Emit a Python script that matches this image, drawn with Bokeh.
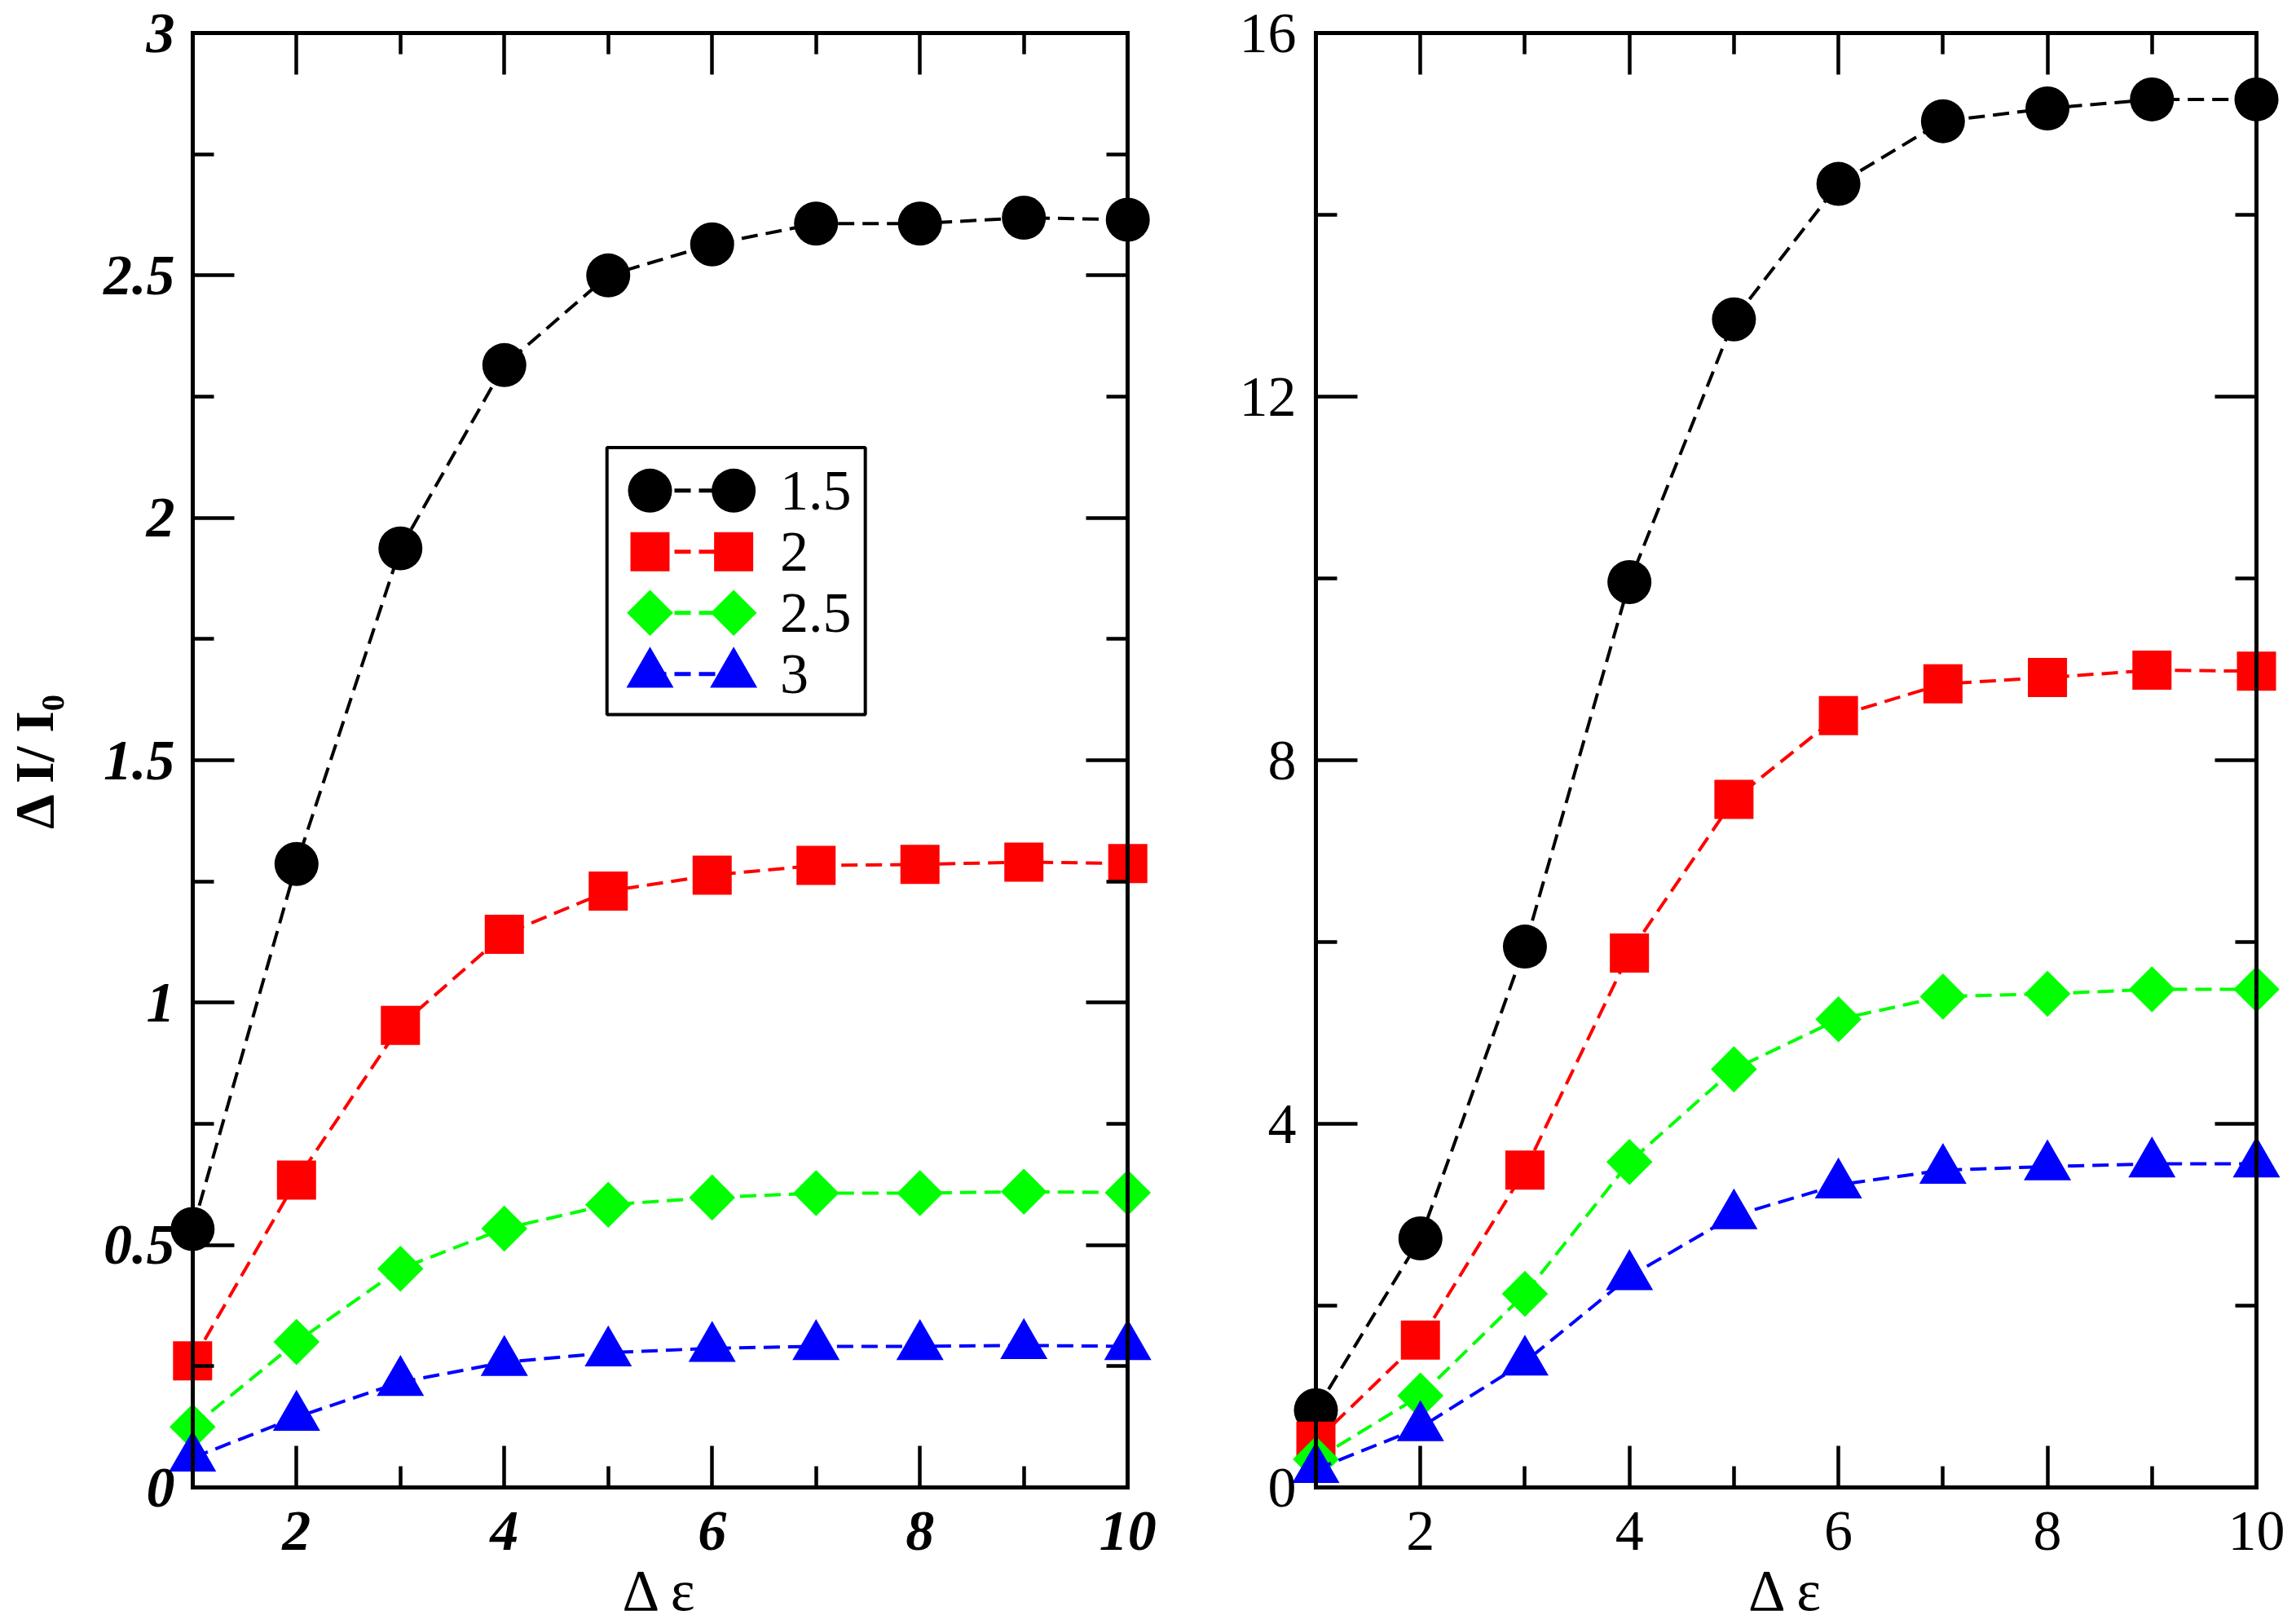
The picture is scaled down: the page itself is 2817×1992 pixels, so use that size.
import math
from bokeh.plotting import figure
from bokeh.layouts import row
from bokeh.models import Range1d, LinearAxis, FixedTicker, NumeralTickFormatter, BasicTickFormatter
from bokeh.embed import file_html
from bokeh.resources import INLINE
from bokeh.core.properties import value

# ---------------- data ----------------
x_vals = [1, 2, 3, 4, 5, 6, 7, 8, 9, 10]
series_names = ["1.5", "2", "2.5", "3"]

left_black = [0.533, 1.286, 1.937, 2.315, 2.500, 2.564, 2.607, 2.607, 2.619, 2.615]
left_red = [0.261, 0.634, 0.953, 1.141, 1.230, 1.263, 1.283, 1.285, 1.290, 1.287]
left_green = [0.125, 0.300, 0.451, 0.534, 0.583, 0.598, 0.607, 0.607, 0.610, 0.608]
left_blue = [0.061, 0.145, 0.217, 0.258, 0.278, 0.287, 0.291, 0.291, 0.293, 0.291]

right_black = [0.85, 2.74, 5.95, 9.96, 12.85, 14.34, 15.03, 15.17, 15.27, 15.27]
right_red = [0.51, 1.62, 3.49, 5.88, 7.57, 8.49, 8.84, 8.91, 8.99, 8.98]
right_green = [0.31, 1.01, 2.13, 3.58, 4.60, 5.15, 5.40, 5.43, 5.48, 5.48]
right_blue = [0.20, 0.66, 1.38, 2.32, 2.99, 3.33, 3.49, 3.53, 3.56, 3.56]

x_major_ticks = [2, 4, 6, 8, 10]
x_minor_ticks = [1, 3, 5, 7, 9]
left_y_major = [0, 0.5, 1, 1.5, 2, 2.5, 3]
left_y_minor = [0.25, 0.75, 1.25, 1.75, 2.25, 2.75]
right_y_major = [0, 4, 8, 12, 16]
right_y_minor = [2, 6, 10, 14]

x_title = "Δ ε"
y_title = "Δ I/ I₀"

# ---------------- styles ----------------
colors = ["#000000", "#ff0000", "#00ff00", "#0000ff"]
markers = ["circle", "square", "square", "triangle"]
angles = [0, 0, math.pi / 4, 0]
sizes = [54, 48, 40, 58]
FONT = "Liberation Serif"
X_PAD = 0.273


def tick_style(ax, ticker, font_style):
    ax.ticker = ticker
    ax.axis_line_width = 5
    ax.axis_line_color = "black"
    ax.axis_line_cap = "square"
    ax.major_tick_line_width = 4.5
    ax.minor_tick_line_width = 4.5
    ax.major_tick_line_color = "black"
    ax.minor_tick_line_color = "black"
    ax.major_tick_in = 51
    ax.major_tick_out = 0
    ax.minor_tick_in = 26
    ax.minor_tick_out = 0
    ax.major_label_text_font = FONT
    ax.major_label_text_font_style = font_style
    ax.major_label_text_color = "black"
    ax.major_label_text_font_size = "70px"


def hide_labels(ax):
    ax.major_label_text_font_size = "1px"
    ax.major_label_text_alpha = 0
    ax.major_label_standoff = 0


def label_only_axis(ticker, font_style, standoff, formatter):
    ax = LinearAxis(ticker=ticker, formatter=formatter)
    ax.axis_line_color = None
    ax.major_tick_in = 0
    ax.major_tick_out = 0
    ax.minor_tick_in = 0
    ax.minor_tick_out = 0
    ax.major_tick_line_color = None
    ax.minor_tick_line_color = None
    ax.major_label_text_font = FONT
    ax.major_label_text_font_style = font_style
    ax.major_label_text_font_size = "70px"
    ax.major_label_text_color = "black"
    ax.major_label_standoff = standoff
    return ax


def make_panel(width, border_left, border_right, y_max, y_major, y_minor,
               data, font_style, y_formatter, y_label_standoff):
    p = figure(width=width, height=1992,
               x_range=Range1d(1 - X_PAD, 10 + X_PAD),
               y_range=Range1d(0, y_max),
               output_backend="svg", toolbar_location=None,
               min_border_left=border_left, min_border_right=border_right,
               min_border_top=40, min_border_bottom=168)
    p.grid.visible = False
    p.outline_line_color = None
    p.background_fill_color = "white"
    p.border_fill_color = "white"

    # bottom axis: line, ticks, labels, title
    bx = p.xaxis[0]
    tick_style(bx, FixedTicker(ticks=x_major_ticks, minor_ticks=x_minor_ticks), font_style)
    bx.bounds = (1, 10)
    bx.major_label_standoff = 30
    bx.axis_label = x_title
    bx.axis_label_text_font = FONT
    bx.axis_label_text_font_size = "71px"
    bx.axis_label_text_font_style = "normal"
    bx.axis_label_text_color = "black"
    bx.axis_label_standoff = 8

    # left axis line + ticks at x = 1
    ly = p.yaxis[0]
    tick_style(ly, FixedTicker(ticks=y_major, minor_ticks=y_minor), font_style)
    ly.fixed_location = 1
    hide_labels(ly)

    # left tick labels
    lab = label_only_axis(FixedTicker(ticks=y_major, minor_ticks=y_minor),
                          font_style, y_label_standoff, y_formatter)
    p.add_layout(lab, "left")

    # mirrored top and right axes
    top = LinearAxis()
    tick_style(top, FixedTicker(ticks=x_major_ticks, minor_ticks=x_minor_ticks), font_style)
    top.bounds = (1, 10)
    hide_labels(top)
    p.add_layout(top, "above")

    ry = LinearAxis()
    tick_style(ry, FixedTicker(ticks=y_major, minor_ticks=y_minor), font_style)
    ry.fixed_location = 10
    hide_labels(ry)
    p.add_layout(ry, "right")

    for ys, c, m, a, s in zip(data, colors, markers, angles, sizes):
        p.line(x_vals, ys, line_color=c, line_width=4, line_dash="20 10")
        p.scatter(x_vals, ys, marker=m, angle=a, size=s,
                  fill_color=c, line_color=c, line_width=0)
    return p, lab


p1, lab1 = make_panel(1438, 197, 20, 3, left_y_major, left_y_minor,
                      [left_black, left_red, left_green, left_blue], "bold italic",
                      NumeralTickFormatter(format="0.[0]"), -13)
p2, lab2 = make_panel(1375, 141, 10, 16, right_y_major, right_y_minor,
                      [right_black, right_red, right_green, right_blue], "normal",
                      BasicTickFormatter(), -11)

lab1.axis_label = y_title
lab1.axis_label_text_font = FONT
lab1.axis_label_text_font_size = "68px"
lab1.axis_label_text_font_style = "bold"
lab1.axis_label_text_color = "black"
lab1.axis_label_standoff = 44

# legend (drawn in the left panel, data coordinates of that panel)
leg_left, leg_right, leg_bottom, leg_top = 4.988, 7.474, 1.594, 2.145
leg_rows = [2.056, 1.930, 1.804, 1.678]
leg_mx = [5.402, 6.207]
leg_tx = 6.653
p1.quad(left=[leg_left], right=[leg_right], bottom=[leg_bottom], top=[leg_top],
        fill_color="white", line_color="black", line_width=4)
for i in range(4):
    yy = [leg_rows[i], leg_rows[i]]
    p1.line(leg_mx, yy, line_color=colors[i], line_width=5, line_dash="20 10")
    p1.scatter(leg_mx, yy, marker=markers[i], angle=angles[i], size=sizes[i],
               fill_color=colors[i], line_color=colors[i], line_width=0)
p1.text(x=[leg_tx] * 4, y=leg_rows, text=series_names,
        text_font=value(FONT), text_font_size="70px",
        text_baseline="middle", text_align="left", text_color="black")

layout = row(p1, p2)
with open("out.html", "w") as f:
    f.write(file_html(layout, INLINE))
